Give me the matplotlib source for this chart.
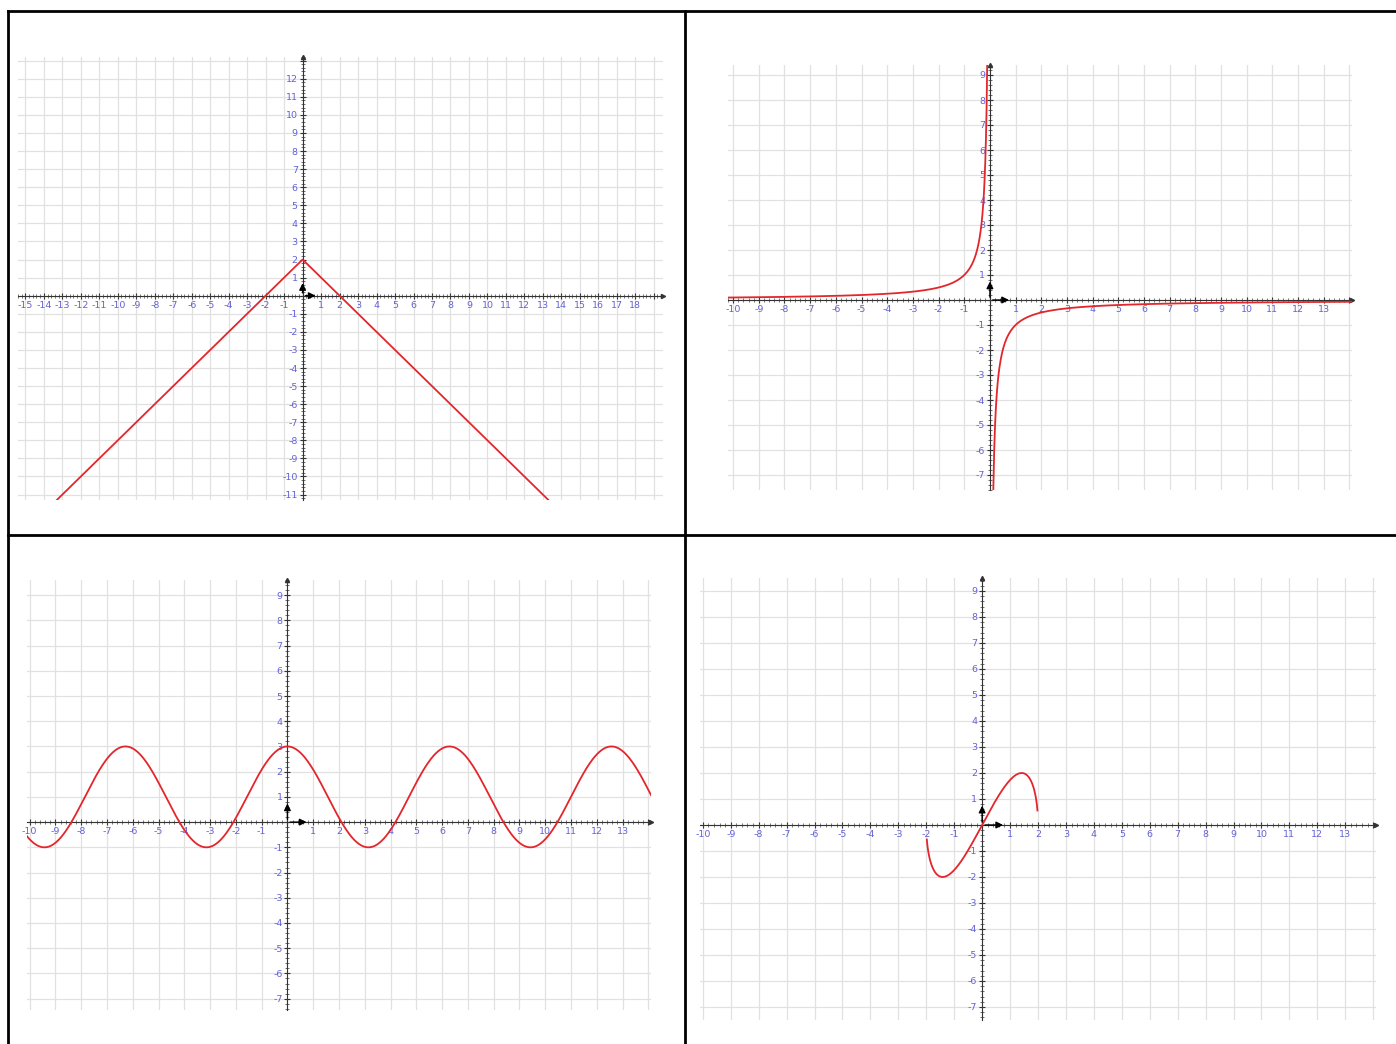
import numpy as np
import matplotlib
matplotlib.use("Agg")
import matplotlib.pyplot as plt
from matplotlib.ticker import FixedLocator, MultipleLocator, FuncFormatter
from matplotlib.lines import Line2D

W, H = 1396, 1044

# panel boxes in pixels: left, top, right, bottom
boxes = [(18, 57, 663, 500), (728, 65, 1352, 490),
         (27, 580, 651, 1010), (700, 578, 1376, 1020)]
# view windows
xlims = [(-15.4, 19.5), (-10.2, 14.1), (-10.1, 14.1), (-10.1, 14.1)]
ylims = [(-11.3, 13.2), (-7.6, 9.4), (-7.45, 9.6), (-7.5, 9.5)]
# labelled tick ranges
xlabel_range = [(-15, 18), (-10, 13), (-10, 13), (-10, 13)]
ylabel_range = [(-11, 12), (-7, 9), (-7, 9), (-7, 9)]

# functions shown in each panel
def f1(x):
    return -np.abs(x) + 2

def f2(x):
    return -1 / x

def f3(x):
    return 2 * np.cos(x) + 1

def f4(x):
    return x * np.sqrt(4 - x ** 2)

# domains drawn (panel 2 is split at the asymptote)
domains = [[(-16, 20)], [(-10.2, -0.105), (0.13, 14.1)], [(-10.1, 14.1)], [(-1.98, 1.98)]]
funcs = [f1, f2, f3, f4]

RED = "#e3262b"
BLUE = "#6262d8"

fig = plt.figure(figsize=(W / 100, H / 100), dpi=100)

# table borders
def hline(y, x0, x1):
    fig.add_artist(Line2D([x0 / W, x1 / W], [1 - y / H, 1 - y / H], color="k", lw=2))

def vline(x, y0, y1):
    fig.add_artist(Line2D([x / W, x / W], [1 - y0 / H, 1 - y1 / H], color="k", lw=2))

hline(11, 8, W)
hline(535, 8, W)
vline(8, 11, H)
vline(685, 11, H)

for i in range(4):
    l, t, r, b = boxes[i]
    ax = fig.add_axes([l / W, 1 - b / H, (r - l) / W, (b - t) / H])
    ax.set_xlim(*xlims[i])
    ax.set_ylim(*ylims[i])

    xr = xlabel_range[i]
    yr = ylabel_range[i]
    xt = np.arange(np.ceil(xlims[i][0]), np.floor(xlims[i][1]) + 1)
    yt = np.arange(np.ceil(ylims[i][0]), np.floor(ylims[i][1]) + 1)
    ax.xaxis.set_major_locator(FixedLocator(xt))
    ax.yaxis.set_major_locator(FixedLocator(yt))
    ax.xaxis.set_minor_locator(MultipleLocator(0.2))
    ax.yaxis.set_minor_locator(MultipleLocator(0.2))
    ax.xaxis.set_major_formatter(FuncFormatter(
        lambda v, p, a=xr: "" if v == 0 or v < a[0] or v > a[1] else "%d" % v))
    ax.yaxis.set_major_formatter(FuncFormatter(
        lambda v, p, a=yr: "" if v == 0 or v < a[0] or v > a[1] else "%d" % v))

    ax.grid(True, which="major", color="#e1e1e1", lw=0.9)
    ax.set_axisbelow(True)

    for s in ["top", "right"]:
        ax.spines[s].set_visible(False)
    ax.spines["left"].set_position(("data", 0))
    ax.spines["bottom"].set_position(("data", 0))
    ax.spines["left"].set_color("#333333")
    ax.spines["bottom"].set_color("#333333")
    ax.tick_params(which="major", direction="inout", length=5, width=0.8,
                   color="#333333", labelsize=6.8, labelcolor=BLUE, pad=1)
    ax.tick_params(which="minor", direction="inout", length=3, width=0.6,
                   color="#555555")

    # axis arrow ends
    ax.plot(1, 0, ">", color="#333333", ms=3, transform=ax.get_yaxis_transform(), clip_on=False)
    ax.plot(0, 1, "^", color="#333333", ms=3, transform=ax.get_xaxis_transform(), clip_on=False)

    # unit vectors
    ax.annotate("", xy=(0.85, 0), xytext=(0, 0),
                arrowprops=dict(arrowstyle="-|>", color="k", lw=1, mutation_scale=10))
    ax.annotate("", xy=(0, 0.85), xytext=(0, 0),
                arrowprops=dict(arrowstyle="-|>", color="k", lw=1, mutation_scale=10))

    for d0, d1 in domains[i]:
        xs = np.linspace(d0, d1, 800)
        ax.plot(xs, funcs[i](xs), color=RED, lw=1.3, zorder=5)

fig.savefig("out.png", dpi=100)
